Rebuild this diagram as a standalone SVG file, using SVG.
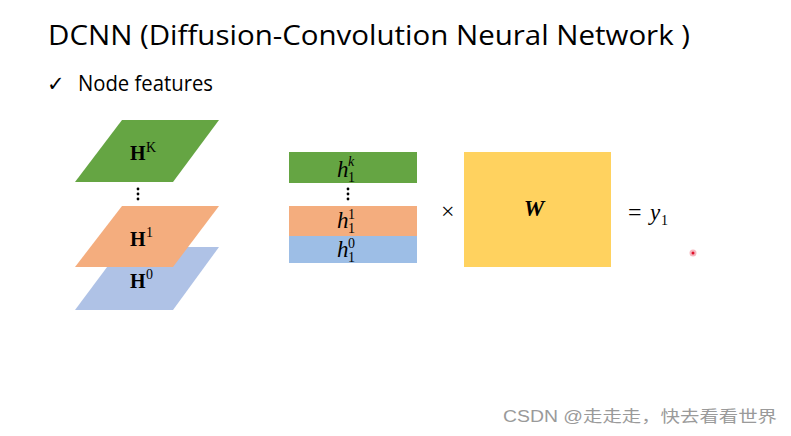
<svg xmlns="http://www.w3.org/2000/svg" width="791" height="436" viewBox="0 0 791 436">
<style>
.title{font-family:"Open Sans","Liberation Sans",sans-serif;font-size:28px;fill:#000}
.sub{font-family:"Open Sans","Liberation Sans",sans-serif;font-size:21px;fill:#000}
.H{font-family:"Liberation Serif",serif;font-weight:bold;font-size:20px;fill:#000}
.sup{font-family:"Liberation Serif",serif;font-size:14px;fill:#000}
.h{font-family:"Liberation Serif",serif;font-style:italic;font-size:23px;fill:#000}
.s{font-family:"Liberation Serif",serif;font-size:14px;fill:#000}
.sk{font-family:"Liberation Serif",serif;font-style:italic;font-size:14px;fill:#000}
.m{font-family:"Liberation Serif",serif;font-size:24px;fill:#000}
.wm{font-family:"Liberation Sans","Noto Sans CJK SC",sans-serif;font-size:16px;fill:#9a9a9a}
.dot{fill:#000}
</style>
<rect width="791" height="436" fill="#fff"/>
<text class="title" x="48" y="45" textLength="642" lengthAdjust="spacingAndGlyphs">DCNN (Diffusion-Convolution Neural Network )</text>
<text class="sub" x="47" y="91">✓</text>
<text class="sub" x="78" y="91" textLength="135" lengthAdjust="spacingAndGlyphs">Node features</text>

<g id="layer-H0">
<polygon points="122,247 219,247 173,310 75,310" fill="#AFC2E6"/>
<text class="H" x="130" y="288">H</text><text class="sup" x="146" y="279">0</text>
</g>
<g id="layer-H1">
<polygon points="122,206 219,206 173,267 75,267" fill="#F4AD7E"/>
<text class="H" x="130" y="246">H</text><text class="sup" x="146" y="237">1</text>
</g>
<g id="layer-HK">
<polygon points="122,120 219,120 173,182 75,182" fill="#65A543"/>
<text class="H" x="130" y="160">H</text><text class="sup" x="146" y="152">K</text>
</g>
<g id="dots-H">
<circle class="dot" cx="138" cy="189" r="1.4"/><circle class="dot" cx="138" cy="194" r="1.4"/><circle class="dot" cx="138" cy="199" r="1.4"/>
</g>

<g id="row-hk">
<rect x="289" y="152" width="128" height="31" fill="#65A543"/>
<text class="h" x="337" y="177">h</text><text class="s" x="348" y="182">1</text><text class="sk" x="348" y="166">k</text>
</g>
<g id="dots-h">
<circle class="dot" cx="348" cy="189" r="1.4"/><circle class="dot" cx="348" cy="194" r="1.4"/><circle class="dot" cx="348" cy="199" r="1.4"/>
</g>
<g id="row-h1">
<rect x="289" y="206" width="128" height="30" fill="#F4AD7E"/>
<text class="h" x="337" y="228">h</text><text class="s" x="348" y="233">1</text><text class="s" x="348" y="219">1</text>
</g>
<g id="row-h0">
<rect x="289" y="236" width="128" height="27" fill="#9DBEE6"/>
<text class="h" x="337" y="257">h</text><text class="s" x="348" y="262">1</text><text class="s" x="348" y="248">0</text>
</g>

<text class="m" x="441" y="219">×</text>
<g id="W">
<rect x="464" y="152" width="147" height="115" fill="#FFD25F"/>
<text class="h" x="534" y="216" text-anchor="middle" font-weight="bold" font-size="21">W</text>
</g>
<g id="y1">
<text class="m" x="628" y="220">=</text>
<text class="h" x="650" y="220">y</text><text class="s" x="661" y="225">1</text>
</g>
<circle cx="693" cy="253" r="3.5" fill="#f5b8c0"/><circle cx="693" cy="253" r="1.5" fill="#e0102a"/>

<text class="wm" x="503" y="422" textLength="274" lengthAdjust="spacingAndGlyphs">CSDN @走走走，快去看看世界</text>
</svg>
